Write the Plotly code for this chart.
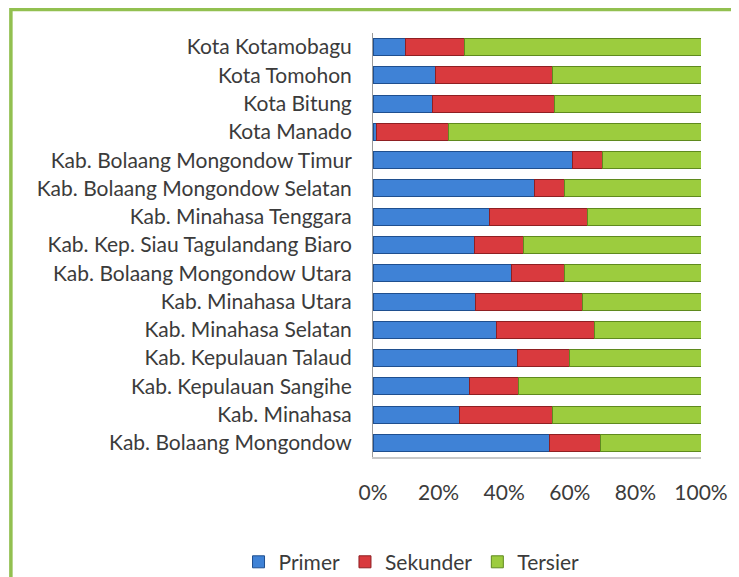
import plotly.graph_objects as go

categories = [
    "Kab. Bolaang Mongondow",
    "Kab. Minahasa",
    "Kab. Kepulauan Sangihe",
    "Kab. Kepulauan Talaud",
    "Kab. Minahasa Selatan",
    "Kab. Minahasa Utara",
    "Kab. Bolaang Mongondow Utara",
    "Kab. Kep. Siau Tagulandang Biaro",
    "Kab. Minahasa Tenggara",
    "Kab. Bolaang Mongondow Selatan",
    "Kab. Bolaang Mongondow Timur",
    "Kota Manado",
    "Kota Bitung",
    "Kota Tomohon",
    "Kota Kotamobagu",
]

primer = [53.7, 26.3, 29.5, 44.1, 37.5, 31.3, 42.1, 30.9, 35.5, 49.1, 60.7, 1.1, 18.0, 19.2, 9.8]
sekunder = [15.7, 28.4, 14.9, 15.7, 29.9, 32.6, 16.2, 15.1, 29.8, 9.2, 9.2, 21.9, 37.2, 35.5, 18.2]
tersier = [30.6, 45.3, 55.6, 40.2, 32.6, 36.1, 41.7, 54.0, 34.7, 41.7, 30.1, 77.0, 44.8, 45.3, 72.0]

tick_vals = [0, 20, 40, 60, 80, 100]
tick_text = ["0%", "20%", "40%", "60%", "80%", "100%"]

FONT = "Lato"
TXT = "#3b3b3b"

fig = go.Figure()
series = [
    ("Primer", primer, "#3f82d6", "#1f4f8f"),
    ("Sekunder", sekunder, "#d93a3e", "#8f1f22"),
    ("Tersier", tersier, "#9ccc3e", "#5f8a1e"),
]
for name, vals, col, edge in series:
    fig.add_trace(go.Bar(
        y=categories, x=vals, name=name, orientation="h",
        marker=dict(color=col, line=dict(color=edge, width=1)),
    ))

fig.update_layout(
    barmode="stack",
    barnorm="percent",
    bargap=0.4,
    width=731, height=569,
    margin=dict(l=365, r=38, t=25, b=120, autoexpand=False),
    paper_bgcolor="white", plot_bgcolor="white",
    font=dict(family=FONT, size=21, color=TXT),
    showlegend=True,
    legend=dict(orientation="h", x=-0.41, y=-0.248, xanchor="left", yanchor="middle",
                font=dict(family=FONT, size=21, color=TXT), itemwidth=30,
                traceorder="normal", bgcolor="rgba(0,0,0,0)"),
    xaxis=dict(range=[0, 100], tickvals=tick_vals, ticktext=tick_text, showgrid=False,
               zeroline=False, showline=True, linecolor="#c8c8c8", linewidth=2,
               ticks="", ticklabelstandoff=16, fixedrange=True,
               tickfont=dict(family=FONT, size=21, color=TXT)),
    yaxis=dict(showgrid=False, zeroline=False, showline=True, linecolor="#9a9a9a", linewidth=1,
               ticks="", ticklabelstandoff=16, fixedrange=True),
    shapes=[dict(type="rect", xref="paper", yref="paper",
                 x0=-1.104, x1=2.0, y0=-1.0, y1=1.0554,
                 line=dict(color="#92c050", width=3.5), fillcolor="rgba(0,0,0,0)", layer="below")],
)

fig.write_html("out.html")
